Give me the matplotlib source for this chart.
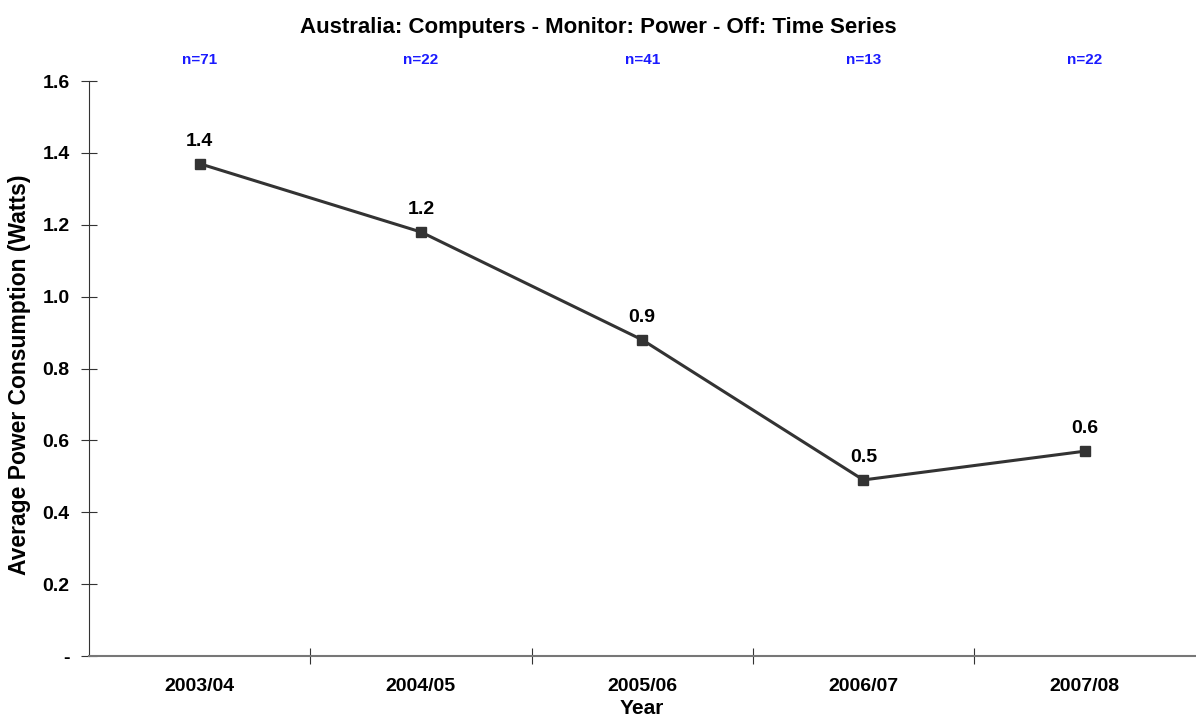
import matplotlib.pyplot as plt

plt.rcParams['font.family'] = ['Liberation Sans', 'DejaVu Sans']

years = ['2003/04', '2004/05', '2005/06', '2006/07', '2007/08']
power = [1.37, 1.18, 0.88, 0.49, 0.57]
counts = [71, 22, 41, 13, 22]
y_ticks = [0, 0.2, 0.4, 0.6, 0.8, 1.0, 1.2, 1.4, 1.6]
y_tick_labels = ['-', '0.2', '0.4', '0.6', '0.8', '1.0', '1.2', '1.4', '1.6']

fig = plt.figure(figsize=(11.96, 7.17), dpi=100)
ax = fig.add_axes([0.0744, 0.085, 0.925, 0.802])

x = list(range(len(years)))
ax.plot(x, power, color='#333333', linewidth=2.2, marker='s', markersize=6.5)

# value labels above points
for xi, v in zip(x, power):
    ax.annotate(f'{v:.1f}', (xi, v), xytext=(0, 10), textcoords='offset points',
                ha='center', va='bottom', fontsize=14, fontweight='bold')

# sample sizes above the plot area
for xi, n in zip(x, counts):
    ax.annotate(f'n={n}', (xi, 1.0), xycoords=ax.get_xaxis_transform(),
                xytext=(0, 15), textcoords='offset points',
                ha='center', va='center', fontsize=11, fontweight='bold',
                color='#1a1aff')

ax.set_xlim(-0.5, len(years) - 0.5)
ax.set_ylim(0, 1.6)
ax.set_yticks(y_ticks)
ax.set_yticklabels(y_tick_labels, fontsize=14, fontweight='bold')

ax.set_xticks([i + 0.5 for i in x[:-1]])
ax.set_xticklabels([])
ax.set_xticks(x, minor=True)
ax.set_xticklabels(years, minor=True, fontsize=14, fontweight='bold')
ax.tick_params(axis='x', which='minor', length=0, pad=16)
ax.tick_params(axis='x', which='major', direction='inout', length=12, color='#333333')
ax.tick_params(axis='y', direction='inout', length=12, color='#333333', pad=8)

for s in ['top', 'right']:
    ax.spines[s].set_visible(False)
ax.spines['left'].set_color('#333333')
ax.spines['bottom'].set_color('#777777')
ax.spines['bottom'].set_linewidth(1.5)

ax.set_xlabel('Year', fontsize=15, fontweight='bold')
ax.xaxis.set_label_coords(0.5, -0.075)
ax.set_ylabel('Average Power Consumption (Watts)', fontsize=16.5, fontweight='bold')
ax.yaxis.set_label_coords(-0.052, 0.49)
fig.text(0.5, 0.962, 'Australia: Computers - Monitor: Power - Off: Time Series',
         ha='center', va='center', fontsize=16, fontweight='bold')

fig.savefig('out.png', dpi=100)
